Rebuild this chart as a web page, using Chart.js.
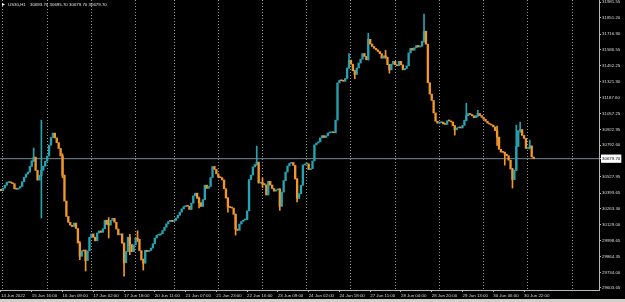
<!DOCTYPE html>
<html><head><meta charset="utf-8">
<script src="https://cdn.jsdelivr.net/npm/chart.js@4.4.0/dist/chart.umd.min.js"></script>
<style>
html,body{margin:0;padding:0;background:#000;overflow:hidden}
#wrap{width:625px;height:299px;position:relative;background:#000}
#tabs{height:3px;background:#d4d0c8}
</style></head><body>
<div id="wrap"><canvas id="c" width="625" height="299"></canvas></div>
<div id="tabs"></div>
<script>
const symbolTitle = "US30,H1";
const lastOHLC = [30693.70, 30695.70, 30679.70, 30679.70];
const firstOpen = 30425.0;
const closes = [
30412.7,30434.3,30458.4,30482.5,30485.0,30479.0,30471.7,30429.3,30425.1,30435.1,
30448.4,30487.5,30524.9,30551.5,30568.1,30615.5,30662.9,30692.9,30582.3,30501.6,
30540.7,30583.1,30617.2,30657.9,30702.0,30791.8,30855.8,30892.4,30852.5,30813.4,
30765.2,30702.0,30543.2,30327.0,30199.0,30149.9,30125.8,30115.0,30144.1,30099.2,
29977.8,29867.2,29913.0,29911.3,29832.3,29913.0,30025.2,30053.5,30026.1,29996.1,
30061.0,30078.4,30066.8,30096.7,30167.4,30132.5,30127.5,30166.6,30183.2,30150.8,
30094.2,30046.0,30054.3,29976.2,29813.2,29906.3,30026.1,29965.4,29906.3,29962.9,
30018.6,30009.4,29914.6,29836.5,29809.9,29917.1,29907.2,29915.5,29935.4,29972.0,
30019.4,30042.7,30044.3,30055.2,30081.8,30109.2,30137.5,30156.6,30166.6,30156.6,
30165.7,30185.7,30209.0,30235.6,30262.2,30281.3,30288.8,30283.8,30257.2,30309.6,
30370.3,30392.7,30349.5,30313.7,30282.1,30338.7,30459.2,30432.6,30448.4,30522.4,
30614.7,30590.6,30554.0,30525.7,30521.6,30502.5,30429.3,30352.0,30277.1,30273.0,
30268.8,30216.5,30094.2,30083.4,30135.8,30157.4,30169.1,30172.0,30245.6,30505.8,
30543.2,30611.4,30631.3,30651.3,30476.7,30480.0,30472.5,30461.7,30377.7,30491.7,
30460.1,30431.0,30409.3,30420.2,30426.8,30283.0,30401.9,30497.5,30568.1,30618.9,
30640.5,30648.0,30623.9,30509.9,30348.6,30387.7,30458.4,30627.2,30635.5,30637.2,
30588.9,30597.2,30661.3,30795.1,30809.3,30820.1,30852.5,30871.6,30855.8,30869.1,
30893.2,30897.4,30900.7,30894.9,31000.5,31310.6,31333.1,31328.0,31323.9,31346.4,
31434.5,31499.3,31466.1,31412.0,31380.5,31433.7,31475.2,31507.7,31554.2,31530.9,
31502.7,31673.1,31634.0,31613.2,31598.3,31585.8,31571.7,31553.4,31516.0,31535.9,
31524.3,31461.9,31418.7,31466.1,31489.4,31461.1,31452.8,31489.4,31460.3,31418.7,
31430.3,31452.0,31560.0,31598.3,31582.5,31602.4,31621.6,31609.1,31614.9,31656.5,
31740.5,31632.4,31311.4,31216.7,31164.3,31060.4,30991.3,30975.5,30979.7,30983.9,
30968.9,30965.0,30994.7,30993.8,30985.5,30953.1,30919.8,30935.6,30939.8,30935.6,
30956.4,30999.7,31037.1,31055.4,31047.0,31036.2,31020.4,31037.9,31055.4,31038.7,
31022.9,31007.1,30991.3,30975.5,30967.2,30958.9,30944.0,30913.2,30859.1,30757.7,
30734.4,30731.9,30717.0,30703.7,30667.1,30593.9,30505.8,30584.8,30781.0,30913.2,
30922.3,30873.3,30848.3,30764.4,30771.8,30786.8,30693.7,30679.7
];
// bars whose wicks reach visibly beyond the body (index, high, low)
const spikeBars  = [17, 21, 32, 41, 44, 56, 64, 67, 71, 74, 103, 118, 122, 133, 136, 145, 154,
  181, 184, 191, 200, 202, 220, 236, 242, 248, 258, 262, 266, 268, 270, 275];
const spikeHighs = [30768, 31000, 30720, 29990, 29920, 30190, 29980, 30050, 30080, 29845, 30360,
  30355, 30220, 30784, 30520, 30430, 30515, 31555, 31415, 31724, 31582, 31465, 31882, 30955,
  31140, 31083, 30950, 30735, 30600, 30959, 30984, 30834];
const spikeLows  = [30655, 30186, 30520, 29840, 29745, 30020, 29703, 29880, 29990, 29753, 30270,
  30235, 30044, 30625, 30440, 30250, 30320, 31430, 31345, 31500, 31515, 31391, 31650, 30876,
  30995, 31030, 30790, 30626, 30435, 30580, 30900, 30760];
const tickBars = [0,16,32,48,64,80,96,112,128,144,160,176,192,208,224,240,256,272];
const tickLabels = ["14 Jun 2022","15 Jun 16:00","16 Jun 09:00","17 Jun 02:00","17 Jun 18:00",
  "20 Jun 11:00","21 Jun 07:00","21 Jun 23:00","22 Jun 16:00","23 Jun 09:00","24 Jun 02:00",
  "24 Jun 18:00","27 Jun 11:00","28 Jun 04:00","28 Jun 20:00","29 Jun 13:00","30 Jun 06:00","30 Jun 22:00"];
const separatorBars = [1, 24, 47, 70, 90, 113, 136, 159, 182, 205, 228, 251, 274, 297];
const priceTicks = [31981.55,31851.20,31716.90,31586.55,31452.25,31321.90,31187.60,31057.25,
  30922.95,30792.60,30527.95,30393.65,30263.30,30129.00,29998.65,29864.35,29734.00,29603.65];

const BULL = '#26a3b0', BEAR = '#f2962a';
const lastClose = closes[closes.length - 1];
const opens = closes.map((c, i) => i === 0 ? firstOpen : closes[i - 1]);
const bodies = closes.map((c, i) => ({x: i, y: [opens[i], c]}));
const bodyColors = closes.map((c, i) => c >= opens[i] ? BULL : BEAR);
const wicks = spikeBars.map((b, k) => ({x: b, y: [spikeLows[k], spikeHighs[k]]}));
const wickColors = spikeBars.map(b => bodyColors[b]);
const X_MIN = -0.52, X_MAX = 311;
const FONT = {family: 'Liberation Sans', size: 4.4};

const headerPlugin = {
  id: 'hdr',
  afterDraw(chart) {
    const ctx = chart.ctx;
    ctx.save();
    ctx.fillStyle = '#ffffff';
    ctx.beginPath(); ctx.moveTo(2, 3); ctx.lineTo(5, 4.5); ctx.lineTo(2, 6); ctx.fill();
    ctx.font = '4.4px "Liberation Sans"';
    ctx.fillStyle = '#e0e0e0';
    ctx.textBaseline = 'middle';
    ctx.fillText(symbolTitle, 8, 4.5);
    lastOHLC.forEach((v, k) => ctx.fillText(v.toFixed(2), 30 + k * 19.5, 4.5));
    ctx.restore();
  }
};

new Chart(document.getElementById('c'), {
  data: {
    datasets: [
      {type: 'line', data: [{x: X_MIN, y: lastClose}, {x: X_MAX, y: lastClose}],
       borderColor: '#7a8896', borderWidth: 1, pointRadius: 0, order: 3},
      {type: 'bar', data: wicks, backgroundColor: wickColors, barThickness: 1, grouped: false,
       borderWidth: 0, order: 2},
      {type: 'bar', data: bodies, backgroundColor: bodyColors, barThickness: 1.7, grouped: false,
       borderWidth: 0, minBarLength: 1, order: 1}
    ]
  },
  plugins: [headerPlugin],
  options: {
    responsive: false, animation: false, devicePixelRatio: 1,
    layout: {padding: 0},
    plugins: {legend: {display: false}, tooltip: {enabled: false}},
    scales: {
      x: {
        type: 'linear', position: 'bottom', min: X_MIN, max: X_MAX, weight: 1,
        offset: false,
        afterBuildTicks: s => { s.ticks = tickBars.map(v => ({value: v})); },
        afterFit: s => { s.height = 9; s.paddingLeft = 0; s.paddingRight = 0; },
        border: {color: '#b8b8b8', width: 1},
        grid: {offset: false, drawOnChartArea: false, drawTicks: true, tickLength: 2, color: '#b8b8b8'},
        ticks: {align: 'start', color: '#d8d8d8', font: FONT, padding: 1, maxRotation: 0,
                autoSkip: false, callback: (v, idx) => tickLabels[idx]}
      },
      sep: {
        type: 'linear', position: 'bottom', min: X_MIN, max: X_MAX, weight: 2,
        offset: false,
        afterBuildTicks: s => { s.ticks = separatorBars.map(v => ({value: v})); },
        afterFit: s => { s.height = 0; s.paddingLeft = 0; s.paddingRight = 0; },
        border: {display: false, dash: [1, 2]},
        grid: {offset: false, drawOnChartArea: true, drawTicks: false, color: '#9a9a9a', lineWidth: 1},
        ticks: {display: false}
      },
      y: {
        type: 'linear', position: 'right', min: 29587, max: 32000, offset: false,
        afterBuildTicks: s => { s.ticks = priceTicks.concat([lastClose]).map(v => ({value: v})); },
        afterFit: s => { s.width = 26; s.paddingTop = 0; s.paddingBottom = 0; },
        border: {color: '#b8b8b8', width: 1},
        grid: {drawOnChartArea: false, drawTicks: true, tickLength: 2, color: '#b8b8b8'},
        ticks: {
          color: c => (c.tick && c.tick.value === lastClose) ? '#000000' : '#d8d8d8',
          showLabelBackdrop: c => !!(c.tick && c.tick.value === lastClose),
          backdropColor: '#ffffff', backdropPadding: {x: 1, y: 1.5},
          font: FONT, padding: 1, crossAlign: 'near',
          callback: v => v.toFixed(2)
        }
      }
    }
  }
});
</script>
</body></html>
